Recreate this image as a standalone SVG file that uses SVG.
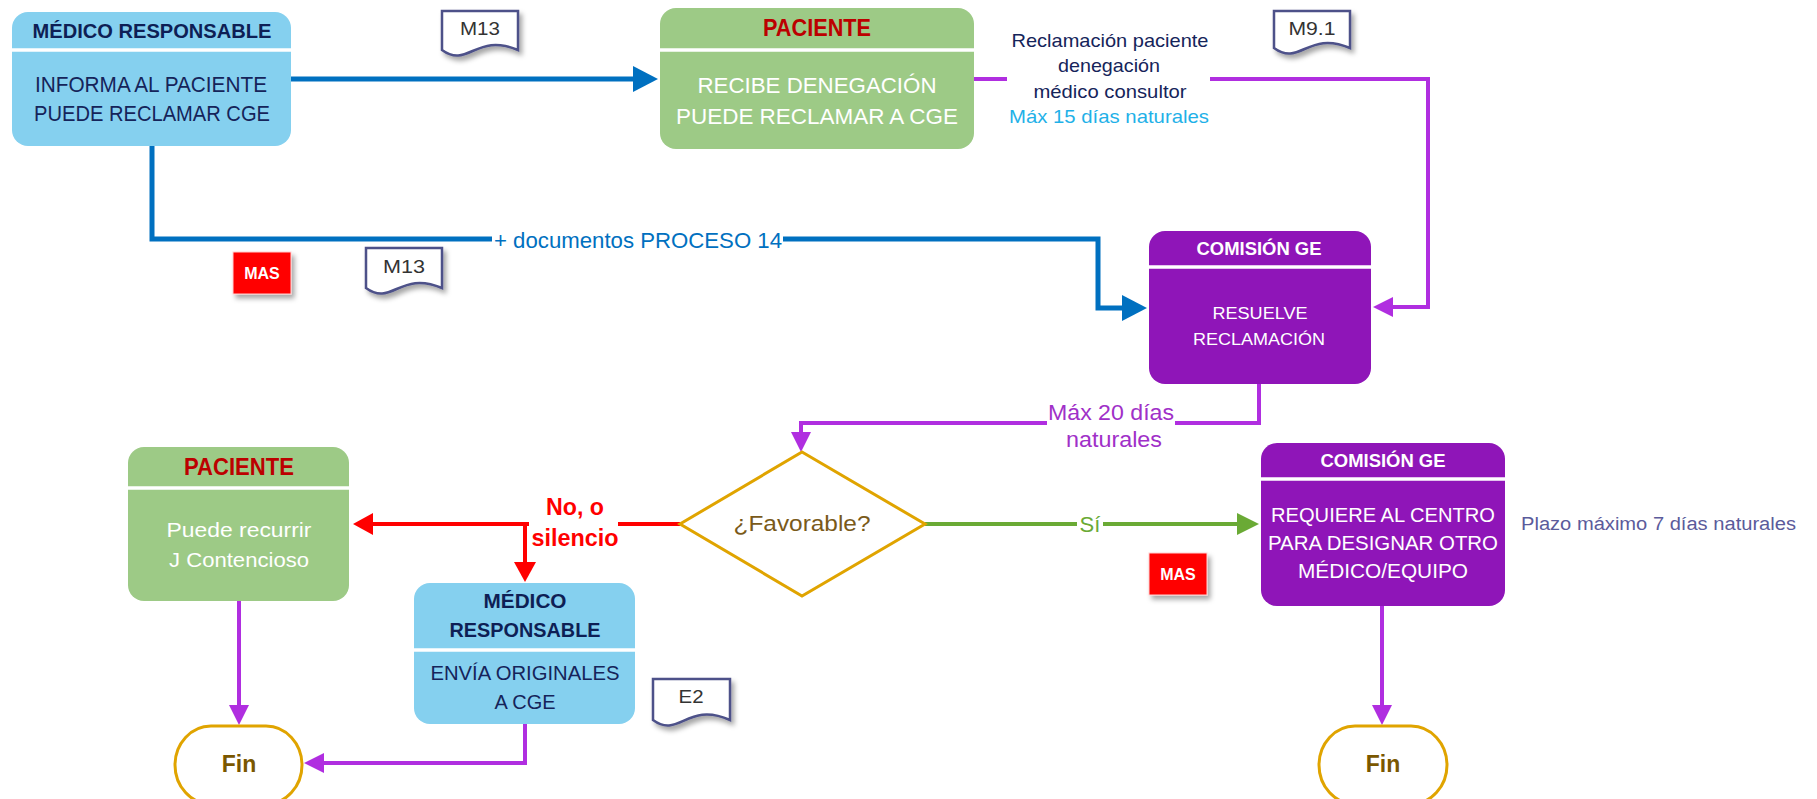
<svg xmlns="http://www.w3.org/2000/svg" width="1817" height="799" viewBox="0 0 1817 799">
<style>
text{font-family:"Liberation Sans",Arial,sans-serif;}
.hdr{font-weight:bold;text-anchor:middle;}
.c{text-anchor:middle;}
.navy{fill:#15245a;}
.wh{fill:#ffffff;}
.red{fill:#bc0000;}
.blue{fill:#85d0ef;}
.green{fill:#9dca86;}
.purp{fill:#8f15b8;}
.div{stroke:#ffffff;stroke-width:3.5;}
.doc{fill:#ffffff;stroke:#4d5189;stroke-width:2.5;filter:url(#sh);}
.doct{font-size:19px;fill:#333;text-anchor:middle;}
.mas{fill:#ff0000;stroke:#ffd0d0;stroke-width:1;filter:url(#sh);}
.mast{font-size:16px;font-weight:bold;fill:#fff;text-anchor:middle;}
.fin{fill:#ffffff;stroke:#e0a400;stroke-width:3;}
.fint{font-size:23px;font-weight:bold;fill:#7a5700;text-anchor:middle;}
.lb{fill:none;stroke:#0070c0;stroke-width:5;}
.lp{fill:none;stroke:#b02ee0;stroke-width:4;}
.lr{fill:none;stroke:#ff0000;stroke-width:4;}
.lg{fill:none;stroke:#6aaa35;stroke-width:4;}
.bg{fill:#ffffff;}
</style>
<defs>
<filter id="sh" x="-20%" y="-20%" width="150%" height="150%">
<feDropShadow dx="3" dy="4" stdDeviation="2.5" flood-color="#000" flood-opacity="0.35"/>
</filter>
<marker id="ab" markerUnits="userSpaceOnUse" markerWidth="25" markerHeight="26" refX="3" refY="13" orient="auto"><path d="M0,0 L25,13 L0,26 Z" fill="#0070c0"/></marker>
<marker id="ap" markerUnits="userSpaceOnUse" markerWidth="20" markerHeight="20" refX="3" refY="10" orient="auto"><path d="M0,0 L20,10 L0,20 Z" fill="#b02ee0"/></marker>
<marker id="ar" markerUnits="userSpaceOnUse" markerWidth="20" markerHeight="22" refX="3" refY="11" orient="auto"><path d="M0,0 L20,11 L0,22 Z" fill="#ff0000"/></marker>
<marker id="ag" markerUnits="userSpaceOnUse" markerWidth="22" markerHeight="22" refX="3" refY="11" orient="auto"><path d="M0,0 L22,11 L0,22 Z" fill="#6aaa35"/></marker>
</defs>
<rect width="1817" height="799" fill="#ffffff"/>

<g id="connectors">
<path class="lb" d="M290,79 H636" marker-end="url(#ab)"/>
<path class="lb" d="M152,145 V239 H1098 V308 H1125" marker-end="url(#ab)"/>
<rect class="bg" x="492" y="224" width="291" height="29"/>
<text x="494" y="248" font-size="22" fill="#0070c0" textLength="288" lengthAdjust="spacingAndGlyphs">+ documentos PROCESO 14</text>

<path class="lp" d="M974,79 H1428 V307 H1390" marker-end="url(#ap)"/>
<rect class="bg" x="1007" y="28" width="203" height="102"/>
<text class="c navy" x="1110" y="47" font-size="19" textLength="197" lengthAdjust="spacingAndGlyphs">Reclamación paciente</text>
<text class="c navy" x="1109" y="72" font-size="19" textLength="102" lengthAdjust="spacingAndGlyphs">denegación</text>
<text class="c navy" x="1110" y="98" font-size="19" textLength="153" lengthAdjust="spacingAndGlyphs">médico consultor</text>
<text class="c" x="1109" y="123" font-size="19" fill="#1fb1e8" textLength="200" lengthAdjust="spacingAndGlyphs">Máx 15 días naturales</text>

<path class="lp" d="M1259,384 V423 H801 V435" marker-end="url(#ap)"/>
<rect class="bg" x="1047" y="402" width="128" height="50"/>
<text class="c" x="1111" y="420" font-size="22" fill="#a030c8" textLength="126" lengthAdjust="spacingAndGlyphs">Máx 20 días</text>
<text class="c" x="1114" y="447" font-size="22" fill="#a030c8" textLength="96" lengthAdjust="spacingAndGlyphs">naturales</text>

<path class="lr" d="M680,524 H370" marker-end="url(#ar)"/>
<path class="lr" d="M525,524 V565" marker-end="url(#ar)"/>
<rect class="bg" x="529" y="494" width="89" height="56"/>
<text class="c" x="575" y="515" font-size="24" font-weight="bold" fill="#ff0000" textLength="58" lengthAdjust="spacingAndGlyphs">No, o</text>
<text class="c" x="575" y="546" font-size="24" font-weight="bold" fill="#ff0000" textLength="87" lengthAdjust="spacingAndGlyphs">silencio</text>

<path class="lg" d="M925,524 H1240" marker-end="url(#ag)"/>
<rect class="bg" x="1077" y="510" width="26" height="28"/>
<text class="c" x="1090" y="532" font-size="22" fill="#6aaa35">Sí</text>

<path class="lp" d="M239,601 V708" marker-end="url(#ap)"/>
<path class="lp" d="M525,724 V763 H321" marker-end="url(#ap)"/>
<path class="lp" d="M1382,606 V708" marker-end="url(#ap)"/>
</g>

<g id="medico-responsable-1">
<rect class="blue" x="12" y="12" width="279" height="134" rx="16"/>
<line class="div" x1="12" y1="50" x2="291" y2="50"/>
<text class="hdr" x="152" y="38" font-size="21" fill="#0e1f55" textLength="239" lengthAdjust="spacingAndGlyphs">MÉDICO RESPONSABLE</text>
<text class="c navy" x="151" y="92" font-size="22" textLength="232" lengthAdjust="spacingAndGlyphs">INFORMA AL PACIENTE</text>
<text class="c navy" x="152" y="121" font-size="22" textLength="236" lengthAdjust="spacingAndGlyphs">PUEDE RECLAMAR CGE</text>
</g>

<g id="doc-m13-1">
<path class="doc" d="M442,11 H518 V50 C476,32 468,69 442,50 Z"/>
<text class="doct" x="480" y="35" textLength="40" lengthAdjust="spacingAndGlyphs">M13</text>
</g>

<g id="paciente-1">
<rect class="green" x="660" y="8" width="314" height="141" rx="16"/>
<line class="div" x1="660" y1="50" x2="974" y2="50"/>
<text class="hdr red" x="817" y="36" font-size="23" textLength="108" lengthAdjust="spacingAndGlyphs">PACIENTE</text>
<text class="c wh" x="817" y="93" font-size="22" textLength="239" lengthAdjust="spacingAndGlyphs">RECIBE DENEGACIÓN</text>
<text class="c wh" x="817" y="124" font-size="22" textLength="282" lengthAdjust="spacingAndGlyphs">PUEDE RECLAMAR A CGE</text>
</g>

<g id="doc-m91">
<path class="doc" d="M1274,11 H1350 V48 C1308,30 1300,67 1274,48 Z"/>
<text class="doct" x="1312" y="35" textLength="47" lengthAdjust="spacingAndGlyphs">M9.1</text>
</g>

<g id="mas-1">
<rect class="mas" x="233" y="252" width="58" height="42"/>
<text class="mast" x="262" y="279">MAS</text>
</g>

<g id="doc-m13-2">
<path class="doc" d="M366,248 H442 V288 C400,270 392,307 366,288 Z"/>
<text class="doct" x="404" y="273" textLength="42" lengthAdjust="spacingAndGlyphs">M13</text>
</g>

<g id="comision-1">
<rect class="purp" x="1149" y="231" width="222" height="153" rx="16"/>
<line class="div" x1="1149" y1="267" x2="1371" y2="267"/>
<text class="hdr wh" x="1259" y="255" font-size="18" textLength="125" lengthAdjust="spacingAndGlyphs">COMISIÓN GE</text>
<text class="c wh" x="1260" y="319" font-size="16" textLength="95" lengthAdjust="spacingAndGlyphs">RESUELVE</text>
<text class="c wh" x="1259" y="345" font-size="16" textLength="132" lengthAdjust="spacingAndGlyphs">RECLAMACIÓN</text>
</g>

<g id="favorable">
<path d="M802,452 L925,524 L802,596 L680,524 Z" fill="#ffffff" stroke="#e0a400" stroke-width="3"/>
<text class="c" x="802" y="531" font-size="22" fill="#7a5a1a" textLength="137" lengthAdjust="spacingAndGlyphs">¿Favorable?</text>
</g>

<g id="paciente-2">
<rect class="green" x="128" y="447" width="221" height="154" rx="16"/>
<line class="div" x1="128" y1="488" x2="349" y2="488"/>
<text class="hdr red" x="239" y="475" font-size="23" textLength="110" lengthAdjust="spacingAndGlyphs">PACIENTE</text>
<text class="c wh" x="239" y="537" font-size="21" textLength="145" lengthAdjust="spacingAndGlyphs">Puede recurrir</text>
<text class="c wh" x="239" y="567" font-size="21" textLength="140" lengthAdjust="spacingAndGlyphs">J Contencioso</text>
</g>

<g id="medico-responsable-2">
<rect class="blue" x="414" y="583" width="221" height="141" rx="16"/>
<line class="div" x1="414" y1="650" x2="635" y2="650"/>
<text class="hdr" x="525" y="608" font-size="21" fill="#0e1f55" textLength="83" lengthAdjust="spacingAndGlyphs">MÉDICO</text>
<text class="hdr" x="525" y="637" font-size="21" fill="#0e1f55" textLength="151" lengthAdjust="spacingAndGlyphs">RESPONSABLE</text>
<text class="c navy" x="525" y="680" font-size="21" textLength="189" lengthAdjust="spacingAndGlyphs">ENVÍA ORIGINALES</text>
<text class="c navy" x="525" y="709" font-size="21" textLength="61" lengthAdjust="spacingAndGlyphs">A CGE</text>
</g>

<g id="doc-e2">
<path class="doc" d="M653,679 H730 V720 C687,701 679,739 653,720 Z"/>
<text class="doct" x="691" y="703" textLength="25" lengthAdjust="spacingAndGlyphs">E2</text>
</g>

<g id="fin-1">
<rect class="fin" x="175" y="726" width="127" height="78" rx="36" ry="39"/>
<text class="fint" x="239" y="772">Fin</text>
</g>

<g id="comision-2">
<rect class="purp" x="1261" y="443" width="244" height="163" rx="16"/>
<line class="div" x1="1261" y1="479" x2="1505" y2="479"/>
<text class="hdr wh" x="1383" y="467" font-size="18" textLength="125" lengthAdjust="spacingAndGlyphs">COMISIÓN GE</text>
<text class="c wh" x="1383" y="522" font-size="21" textLength="224" lengthAdjust="spacingAndGlyphs">REQUIERE AL CENTRO</text>
<text class="c wh" x="1383" y="550" font-size="21" textLength="230" lengthAdjust="spacingAndGlyphs">PARA DESIGNAR OTRO</text>
<text class="c wh" x="1383" y="578" font-size="21" textLength="170" lengthAdjust="spacingAndGlyphs">MÉDICO/EQUIPO</text>
</g>

<g id="plazo-label">
<text x="1521" y="530" font-size="18" fill="#5b5b9b" textLength="275" lengthAdjust="spacingAndGlyphs">Plazo máximo 7 días naturales</text>
</g>

<g id="mas-2">
<rect class="mas" x="1149" y="553" width="58" height="42"/>
<text class="mast" x="1178" y="580">MAS</text>
</g>

<g id="fin-2">
<rect class="fin" x="1319" y="726" width="128" height="78" rx="36" ry="39"/>
<text class="fint" x="1383" y="772">Fin</text>
</g>
</svg>
